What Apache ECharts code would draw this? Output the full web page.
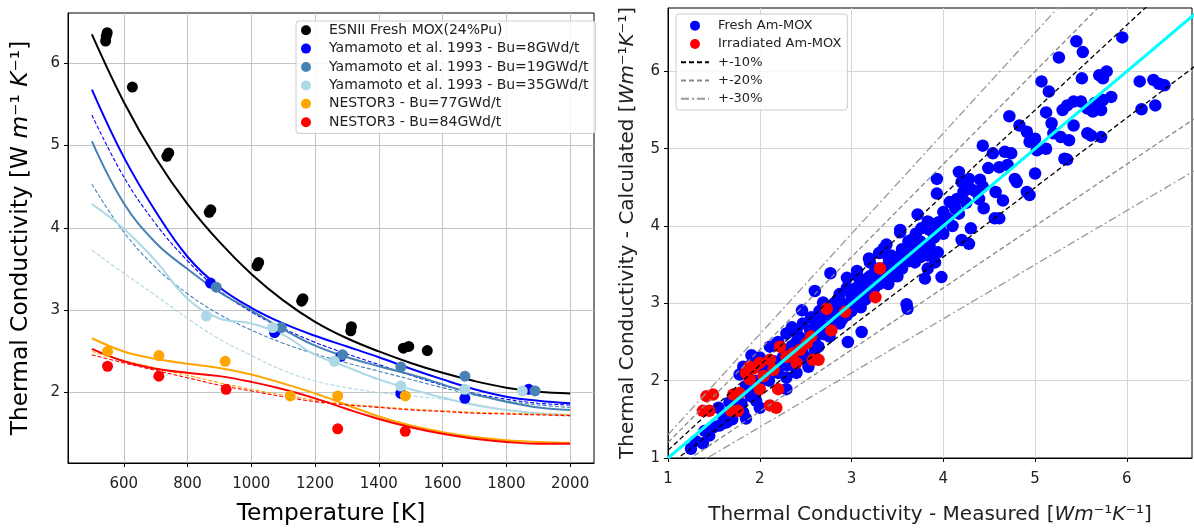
<!DOCTYPE html>
<html>
<head>
<meta charset="utf-8">
<script src="https://cdn.jsdelivr.net/npm/echarts@6/dist/echarts.min.js"></script>
<style>html,body{margin:0;padding:0;background:#fff}#c{width:1194px;height:530px}</style>
</head>
<body>
<div id="c"></div>
<script>
// ---------- Left panel data ----------
const tempGrid = [500,600,700,800,900,1000,1100,1200,1300,1400,1500,1600,1700,1800,1900,2000];
const esniiCurve   = [6.35,5.53,4.85,4.29,3.83,3.44,3.12,2.86,2.66,2.50,2.36,2.24,2.14,2.06,2.01,1.99];
const bu8Curve     = [5.68,4.86,4.20,3.65,3.28,3.03,2.84,2.69,2.56,2.43,2.29,2.16,2.04,1.95,1.90,1.87];
const bu8Dashed    = [5.37,4.62,4.05,3.60,3.24,2.98,2.78,2.61,2.47,2.34,2.21,2.09,1.99,1.92,1.87,1.85];
const bu19Curve    = [5.05,4.30,3.82,3.50,3.22,3.00,2.77,2.57,2.43,2.32,2.22,2.10,1.98,1.89,1.82,1.79];
const bu19Dashed   = [4.53,3.95,3.52,3.20,2.95,2.76,2.60,2.47,2.36,2.26,2.16,2.06,1.97,1.90,1.85,1.82];
const bu35Curve    = [4.29,3.99,3.60,3.14,2.90,2.84,2.70,2.46,2.31,2.16,2.04,1.94,1.85,1.79,1.75,1.73];
const bu35Dashed   = [3.73,3.45,3.18,2.90,2.65,2.45,2.27,2.14,2.06,2.00,1.96,1.92,1.86,1.79,1.74,1.71];
const bu77Curve    = [2.66,2.50,2.41,2.35,2.30,2.22,2.11,1.99,1.85,1.71,1.60,1.52,1.46,1.42,1.40,1.39];
const bu77Dashed   = [2.50,2.39,2.30,2.21,2.12,2.04,1.97,1.91,1.86,1.83,1.80,1.78,1.76,1.75,1.74,1.73];
const bu84Curve    = [2.53,2.38,2.29,2.24,2.20,2.13,2.04,1.93,1.80,1.68,1.58,1.50,1.44,1.40,1.38,1.38];
const bu84Dashed   = [2.46,2.36,2.27,2.18,2.09,2.02,1.95,1.89,1.85,1.82,1.79,1.77,1.75,1.74,1.73,1.72];

const esniiPts = [[543,6.27],[545,6.33],[548,6.37],[627,5.71],[735,4.87],[741,4.91],[868,4.19],[873,4.22],
  [1018,3.54],[1023,3.58],[1158,3.11],[1162,3.14],[1312,2.75],[1314,2.80],[1477,2.54],[1494,2.56],[1552,2.51]];
const bu8Pts  = [[872,3.33],[1073,2.73],[1281,2.44],[1469,1.99],[1670,1.93],[1870,2.04]];
const bu19Pts = [[890,3.28],[1094,2.79],[1286,2.46],[1469,2.31],[1670,2.20],[1890,2.02]];
const bu35Pts = [[859,2.93],[1067,2.79],[1261,2.38],[1469,2.08],[1670,2.04],[1850,2.02]];
const bu77Pts = [[549,2.50],[710,2.45],[918,2.38],[1122,1.96],[1271,1.96],[1483,1.96]];
const bu84Pts = [[549,2.32],[710,2.20],[921,2.04],[1271,1.56],[1483,1.53]];

const leftXTicks = [600,800,1000,1200,1400,1600,1800,2000];
const leftYTicks = [2,3,4,5,6];

// ---------- Right panel data ----------
const freshPts = [
 [5.95,6.44],[5.45,6.39],[5.52,6.25],[5.26,6.18],[5.70,5.95],[5.78,6.00],[5.74,5.91],[5.51,5.91],[5.07,5.87],[5.15,5.74],
 [6.14,5.87],[6.29,5.89],[6.35,5.84],[6.41,5.82],[6.16,5.51],[6.31,5.56],[5.83,5.67],[5.74,5.63],[5.65,5.59],[5.72,5.50],
 [5.63,5.48],[5.42,5.61],[5.50,5.61],[5.35,5.56],[5.30,5.50],[5.57,5.52],[5.12,5.47],[4.72,5.42],[4.83,5.30],[4.91,5.22],
 [5.00,5.13],[4.94,5.09],[5.02,4.98],[5.18,5.33],[5.20,5.20],[5.28,5.15],[5.37,5.11],[5.42,5.30],[5.57,5.20],[5.61,5.17],
 [5.72,5.15],[5.12,5.00],[5.32,4.87],[5.35,4.86],[5.00,4.68],[4.43,5.04],[4.54,4.94],[4.67,4.96],[4.74,4.94],[4.61,4.76],
 [4.70,4.79],[4.78,4.61],[4.80,4.57],[4.91,4.44],[4.94,4.40],[4.49,4.75],[4.17,4.70],[3.93,4.61],[4.20,4.57],[4.28,4.61],
 [4.30,4.48],[4.22,4.44],[4.43,4.51],[4.39,4.35],[4.44,4.23],[4.57,4.44],[4.65,4.33],[4.56,4.10],[4.61,4.10],[3.93,4.42],
 [3.72,4.15],[3.83,4.06],[4.00,4.18],[4.07,4.31],[4.13,4.23],[4.17,4.16],[3.53,3.92],[3.76,3.97],[3.87,4.03],[3.96,3.97],
 [3.65,3.82],[3.69,3.84],[4.30,3.97],[4.20,3.82],[4.28,3.77],[3.35,3.71],[3.43,3.62],[3.57,3.66],[3.72,3.66],[3.83,3.62],
 [3.91,3.53],[3.94,3.66],[3.20,3.53],[3.06,3.36],[3.17,3.32],[3.13,3.19],[3.04,3.06],[3.35,3.45],[3.50,3.45],[3.69,3.53],
 [3.83,3.45],[3.98,3.34],[3.61,2.93],[3.80,3.32],
 [3.53,3.95],[3.62,3.80],[3.71,3.67],[3.60,3.54],[3.47,3.54],[3.38,3.76],[3.19,3.58],[3.06,3.42],[2.95,3.33],[3.09,3.31],
 [3.31,3.33],[2.77,3.39],[2.60,3.16],[2.69,3.01],[2.82,3.01],[2.87,3.12],[3.00,3.01],[3.09,3.05],[3.60,2.99],[3.11,2.63],
 [2.96,2.50],[2.46,2.91],[2.56,2.82],[2.47,2.74],[2.35,2.69],[2.29,2.61],[2.42,2.57],[2.51,2.50],[2.64,2.44],[2.47,2.35],
 [2.76,2.57],[2.87,2.74],[2.80,2.82],[1.91,2.33],[1.87,2.16],[1.82,2.18],[2.11,2.44],[2.18,2.48],[2.27,2.40],[2.36,2.27],
 [2.22,2.23],[2.29,2.04],[2.40,2.10],[2.53,2.18],[2.29,1.89],[2.00,1.97],[1.96,1.74],[2.00,1.65],[1.85,1.51],[1.82,1.59],
 [1.64,1.46],[1.56,1.42],[1.45,1.29],[1.38,1.19],[1.75,1.63],[1.67,1.72],[1.85,1.93],[1.78,2.08],
 [1.60,1.55],[1.70,1.60],[1.75,1.75],[1.90,1.80],[1.95,2.00],[2.05,2.10],[2.10,2.00],[2.15,2.25],[2.25,2.30],[2.30,2.20],
 [2.35,2.45],[2.45,2.55],[2.55,2.65],[2.60,2.55],[2.65,2.75],[2.70,2.85],[2.75,2.70],[2.85,2.90],[2.90,3.00],[2.95,2.85],
 [3.00,3.10],[3.05,3.20],[3.10,2.95],[3.15,3.30],[3.20,3.10],[3.25,3.40],[3.30,3.25],[3.40,3.50],[3.45,3.35],[3.50,3.60],
 [3.55,3.45],[3.65,3.70],[3.75,3.80],[3.85,3.75],[2.20,2.50],[2.00,2.30],[1.90,2.20],[2.50,2.30],[2.60,2.40],[1.25,1.12],[1.30,1.22],
 [2.20,2.10],[2.30,2.35],[2.40,2.50],[2.45,2.30],[2.55,2.50],[2.60,2.70],[2.70,2.60],[2.75,2.95],[2.80,2.75],[2.85,3.05],
 [2.90,2.80],[3.00,2.90],[3.05,3.00],[3.10,3.15],[3.15,3.05],[3.20,3.35],[3.25,3.20],[3.30,3.45],[3.35,3.30],[3.40,3.60],
 [3.45,3.50],[3.50,3.35],[3.55,3.70],[3.60,3.65],[3.65,3.55],[3.70,3.90],[3.75,3.60],[3.80,3.70],[3.85,3.95],[3.90,3.85],
 [3.95,4.05],[4.00,3.90],[4.05,4.10],[4.10,4.00],[4.15,4.35],[4.25,4.30],[4.35,4.45],[4.40,4.60],[3.40,3.25],[3.30,3.65],
 [2.95,3.20],[2.65,2.90],[2.40,2.65],[2.10,2.20],[1.95,1.85],[1.80,1.70],[1.50,1.40],[1.40,1.35],[1.60,1.45],[1.70,1.50],[1.55,1.65]
];
const irradiatedPts = [
 [3.31,3.45],[3.26,3.08],[2.93,2.89],[2.73,2.93],[2.78,2.65],[2.56,2.57],[2.51,2.48],[2.44,2.40],[2.36,2.35],[2.29,2.31],
 [2.22,2.44],[2.40,2.23],[2.58,2.27],[2.64,2.27],[2.11,2.27],[2.00,2.23],[1.93,2.16],[1.89,2.02],[2.04,2.06],[2.15,2.14],
 [2.20,1.89],[2.11,1.68],[2.18,1.65],[1.78,1.84],[1.71,1.82],[1.69,1.61],[1.76,1.61],[1.49,1.82],[1.42,1.80],[1.45,1.61],
 [1.38,1.61],[1.89,2.18],[1.85,2.10],[2.00,1.89]
];
const bandRatios = {'+-10%':[1.1,0.9], '+-20%':[1.2,0.8], '+-30%':[1.3,0.7]};
const rightTicks = [1,2,3,4,5,6];

// ---------- Chart ----------
const chart = echarts.init(document.getElementById('c'), null, {renderer:'canvas'});
const FONT = 'DejaVu Sans';
const pair = (xs, ys) => xs.map((x,i)=>[x, ys[i]]);

function curve(name, ys, color, dashed) {
  return {
    type:'line', name:name, xAxisIndex:0, yAxisIndex:0, data: pair(tempGrid, ys),
    showSymbol:false, symbol:'none', smooth:0.4, z:3,
    lineStyle: dashed ? {color:color, width:1.1, type:[4,2]} : {color:color, width:2}
  };
}
function pts(name, data, color) {
  return {type:'scatter', name:name, xAxisIndex:0, yAxisIndex:0, data:data, symbolSize:11,
    itemStyle:{color:color, opacity:1}, z:4};
}

const leftNames = ['ESNII Fresh MOX(24%Pu)','Yamamoto et al. 1993 - Bu=8GWd/t','Yamamoto et al. 1993 - Bu=19GWd/t',
  'Yamamoto et al. 1993 - Bu=35GWd/t','NESTOR3 - Bu=77GWd/t','NESTOR3 - Bu=84GWd/t'];

const series = [
  curve('c0', esniiCurve, '#000000', false),
  curve('c1', bu8Curve, '#0000ff', false),
  curve('c1d', bu8Dashed, '#0000ff', true),
  curve('c2', bu19Curve, '#4682b4', false),
  curve('c2d', bu19Dashed, '#4682b4', true),
  curve('c3', bu35Curve, '#add8e6', false),
  curve('c3d', bu35Dashed, '#add8e6', true),
  curve('c4', bu77Curve, '#ffa500', false),
  curve('c4d', bu77Dashed, '#ffa500', true),
  curve('c5', bu84Curve, '#ff0000', false),
  curve('c5d', bu84Dashed, '#ff0000', true),
  pts(leftNames[0], esniiPts, '#000000'),
  pts(leftNames[1], bu8Pts, '#0000ff'),
  pts(leftNames[2], bu19Pts, '#4682b4'),
  pts(leftNames[3], bu35Pts, '#add8e6'),
  pts(leftNames[4], bu77Pts, '#ffa500'),
  pts(leftNames[5], bu84Pts, '#ff0000'),
  {type:'scatter', name:'Fresh Am-MOX', xAxisIndex:1, yAxisIndex:1, data:freshPts, symbolSize:12.5,
    itemStyle:{color:'#0000ff', opacity:1}, z:2},
  {type:'scatter', name:'Irradiated Am-MOX', xAxisIndex:1, yAxisIndex:1, data:irradiatedPts, symbolSize:12.5,
    itemStyle:{color:'#ff0000', opacity:1}, z:3}
];
const bandStyles = {'+-10%':{color:'#000000', type:[5,3]}, '+-20%':{color:'#888888', type:[5,3]}, '+-30%':{color:'#999999', type:[8,3,2,3]}};
Object.keys(bandRatios).forEach(k => {
  bandRatios[k].forEach(r => {
    series.push({type:'line', name:k, xAxisIndex:1, yAxisIndex:1, data:[[1, r],[7, 7*r]], symbol:'none',
      itemStyle:{color:bandStyles[k].color, opacity:0},
      lineStyle:{color:bandStyles[k].color, width:1.3, type:bandStyles[k].type}, z:5});
  });
});
series.push({type:'line', name:'identity', xAxisIndex:1, yAxisIndex:1, data:[[1,1],[7,7]], symbol:'none',
  lineStyle:{color:'#00ffff', width:3}, z:6});

const fmt = v => String(v);
const tickLabel = {fontFamily:FONT, fontSize:15, color:'#222', formatter:fmt};
const rich = {
  n:{fontFamily:FONT, fontSize:23.3, color:'#000'},
  i:{fontFamily:FONT, fontSize:23.3, color:'#000', fontStyle:'italic'},
  rn:{fontFamily:FONT, fontSize:20, color:'#222'},
  ri:{fontFamily:FONT, fontSize:20, color:'#222', fontStyle:'italic'}
};
const bandLegend = n => ({name:n, itemStyle:{opacity:0}});

const option = {
  animation:false,
  backgroundColor:'#ffffff',
  grid:[
    {left:68, top:13, width:526, height:454, show:true, borderColor:'#000', borderWidth:1, backgroundColor:'transparent'},
    {left:668, top:8, width:524, height:455, show:true, borderColor:'#000', borderWidth:1, backgroundColor:'transparent'}
  ],
  xAxis:[
    {gridIndex:0, type:'value', min:425, max:2075,
     axisLine:{show:true, lineStyle:{color:'#000'}}, axisTick:{show:true, length:4, customValues:leftXTicks, lineStyle:{color:'#000'}},
     axisLabel:Object.assign({margin:14, customValues:leftXTicks}, tickLabel),
     splitLine:{show:true, lineStyle:{color:'#c4c4c4', width:1}},
     name:'{n|Temperature [K]}', nameLocation:'middle', nameGap:39, nameTextStyle:{rich:rich}},
    {gridIndex:1, type:'value', min:1, max:6.71,
     axisLine:{show:true, lineStyle:{color:'#000'}}, axisTick:{show:true, length:4, customValues:rightTicks, lineStyle:{color:'#000'}},
     axisLabel:Object.assign({margin:14, customValues:rightTicks}, tickLabel),
     splitLine:{show:true, lineStyle:{color:'#d6d6d6', width:1}},
     name:'{rn|Thermal Conductivity - Measured [}{ri|Wm}{rn|⁻¹}{ri|K}{rn|⁻¹}{rn|]}', nameLocation:'middle', nameGap:47, nameTextStyle:{rich:rich}}
  ],
  yAxis:[
    {gridIndex:0, type:'value', min:1.145, max:6.61,
     axisLine:{show:true, lineStyle:{color:'#000'}}, axisTick:{show:true, length:4, customValues:leftYTicks, lineStyle:{color:'#000'}},
     axisLabel:Object.assign({margin:8, customValues:leftYTicks}, tickLabel),
     splitLine:{show:true, lineStyle:{color:'#c4c4c4', width:1}},
     name:'{n|Thermal Conductivity [W }{i|m}{n|⁻¹ }{i|K}{n|⁻¹]}', nameLocation:'middle', nameRotate:90, nameGap:36, nameTextStyle:{rich:rich}},
    {gridIndex:1, type:'value', min:1, max:6.82,
     axisLine:{show:true, lineStyle:{color:'#000'}}, axisTick:{show:true, length:4, customValues:rightTicks, lineStyle:{color:'#000'}},
     axisLabel:Object.assign({margin:8, customValues:rightTicks}, tickLabel),
     splitLine:{show:true, lineStyle:{color:'#d6d6d6', width:1}},
     name:'{rn|Thermal Conductivity - Calculated [}{ri|Wm}{rn|⁻¹}{ri|K}{rn|⁻¹}{rn|]}', nameLocation:'middle', nameRotate:90, nameGap:30, nameTextStyle:{rich:rich}}
  ],
  legend:[
    {data:leftNames, orient:'vertical', left:296, top:21, padding:[0,7,2,5], itemWidth:28, itemHeight:10, itemGap:0,
     selectedMode:false, backgroundColor:'rgba(255,255,255,0.85)', borderColor:'#cccccc', borderWidth:1, borderRadius:3,
     textStyle:{fontFamily:FONT, fontSize:14, color:'#222', lineHeight:18.4, padding:[0,0,0,4]}},
    {data:['Fresh Am-MOX','Irradiated Am-MOX',bandLegend('+-10%'),bandLegend('+-20%'),bandLegend('+-30%')],
     orient:'vertical', left:676, top:14, padding:[2.5,6,2,4],
     itemWidth:28, itemHeight:10, itemGap:0, selectedMode:false, backgroundColor:'rgba(255,255,255,0.85)',
     borderColor:'#cccccc', borderWidth:1, borderRadius:3,
     textStyle:{fontFamily:FONT, fontSize:13, color:'#222', lineHeight:18.3, padding:[0,0,0,4]}}
  ],
  series:series
};
chart.setOption(option);
</script>
</body>
</html>
